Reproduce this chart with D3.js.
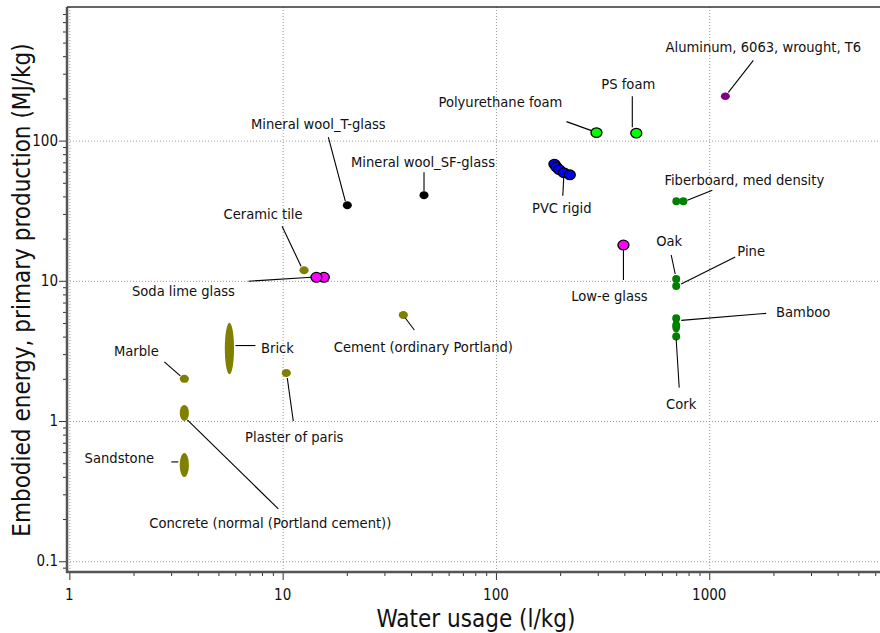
<!DOCTYPE html>
<html>
<head>
<meta charset="utf-8">
<script src="https://cdn.jsdelivr.net/npm/d3@7"></script>
<style>
  html, body { margin: 0; padding: 0; background: #fff; }
  svg { display: block; font-family: "Liberation Sans Narrow", "DejaVu Sans Condensed", "Liberation Sans", sans-serif; }
  .grid line { stroke: #9a9a9a; stroke-width: 1; stroke-dasharray: 1 2; }
  .leader { stroke: #000; stroke-width: 1.1; }
  .label { font-size: 14.6px; fill: #111; }
  .tick-label { font-size: 15px; fill: #111; }
  .axis-title { font-size: 24px; fill: #111; }
</style>
</head>
<body>
<svg id="chart" width="880" height="633"></svg>
<script>
// Materials (one label each) and their colour group
const materialNames = [
  "Aluminum, 6063, wrought, T6", "PS foam", "Polyurethane foam", "PVC rigid",
  "Mineral wool_T-glass", "Mineral wool_SF-glass", "Fiberboard, med density",
  "Ceramic tile", "Soda lime glass", "Low-e glass", "Oak", "Pine", "Bamboo", "Cork",
  "Cement (ordinary Portland)", "Brick", "Plaster of paris", "Marble",
  "Concrete (normal (Portland cement))", "Sandstone"
];
const materialGroup = [
  "metal", "foam", "foam", "plastic",
  "mineral", "mineral", "wood",
  "ceramic", "glass", "glass", "wood", "wood", "wood", "wood",
  "ceramic", "ceramic", "ceramic", "ceramic",
  "ceramic", "ceramic"
];

// Data points (water l/kg, embodied energy MJ/kg low..high)
const pointMaterial = [
  "Aluminum, 6063, wrought, T6", "PS foam", "Polyurethane foam",
  "PVC rigid", "PVC rigid", "PVC rigid", "PVC rigid", "PVC rigid",
  "Mineral wool_T-glass", "Mineral wool_SF-glass",
  "Fiberboard, med density", "Fiberboard, med density",
  "Ceramic tile", "Soda lime glass", "Soda lime glass", "Low-e glass",
  "Oak", "Pine", "Bamboo", "Bamboo", "Cork",
  "Cement (ordinary Portland)", "Brick", "Plaster of paris", "Marble",
  "Concrete (normal (Portland cement))", "Sandstone"
];
const pointWater = [
  1190, 455, 296,
  188, 192, 198, 208, 222,
  20.1, 46,
  701, 756,
  12.6, 15.6, 14.4, 396,
  700, 700, 700, 700, 700,
  36.8, 5.63, 10.4, 3.46,
  3.46, 3.46
];
const pointEnergyLo = [
  207, 113, 114,
  68, 65, 62, 59, 57,
  34.6, 40.8,
  37, 37,
  11.9, 10.6, 10.6, 18,
  10.3, 9.2, 5.4, 4.55, 4.0,
  5.7, 2.3, 2.2, 2.0,
  1.07, 0.426
];
const pointEnergyHi = [
  207, 113, 114,
  68, 65, 62, 59, 57,
  34.6, 40.8,
  37, 37,
  11.9, 10.6, 10.6, 18,
  10.3, 9.2, 5.4, 4.95, 4.0,
  5.7, 4.7, 2.2, 2.0,
  1.22, 0.555
];

const xTickValues = [1, 10, 100, 1000];
const yTickValues = [0.1, 1, 10, 100];
const xTitle = "Water usage (l/kg)";
const yTitle = "Embodied energy, primary production (MJ/kg)";

// Styles per group
const groupStyle = {
  metal:   { fill: "#800080", stroke: "none", rx: 4.5, ry: 3.8 },
  foam:    { fill: "#00ff00", stroke: "#000", rx: 5.5, ry: 4.8 },
  plastic: { fill: "#0000ff", stroke: "#000", rx: 5.5, ry: 4.8 },
  mineral: { fill: "#000000", stroke: "none", rx: 4.5, ry: 4 },
  wood:    { fill: "#008000", stroke: "none", rx: 4, ry: 4 },
  ceramic: { fill: "#808000", stroke: "none", rx: 4.6, ry: 4 },
  glass:   { fill: "#ff00ff", stroke: "#000", rx: 5.5, ry: 4.8 }
};

// Label layout: which point of the material it points at, text offset, leader offsets (px)
const labelLayout = {
  "Aluminum, 6063, wrought, T6":        { pt: 0, dx: 38, dy: -49, l: [28, -36, 3, -4] },
  "PS foam":                            { pt: 0, dx: -8, dy: -49, l: [-4, -37, -4, -6] },
  "Polyurethane foam":                  { pt: 0, dx: -96, dy: -31, l: [-30, -11, -5, -2] },
  "PVC rigid":                          { pt: 3, dx: -2, dy: 35, l: [-1, 23, 0, 4] },
  "Mineral wool_T-glass":               { pt: 0, dx: -29, dy: -81, l: [-19, -68, -2, -4] },
  "Mineral wool_SF-glass":              { pt: 0, dx: -1, dy: -33, l: [0, -23, 0, -4] },
  "Fiberboard, med density":            { pt: 1, dx: 61, dy: -21, l: [29, -11, 4, -1] },
  "Ceramic tile":                       { pt: 0, dx: -41, dy: -56, l: [-22, -44, -3, -4] },
  "Soda lime glass":                    { pt: 1, dx: -133, dy: 14, l: [-68, 4, -5, 0] },
  "Low-e glass":                        { pt: 0, dx: -14, dy: 51, l: [0, 35, 0, 5] },
  "Oak":                                { pt: 0, dx: -7, dy: -38, l: [-5, -24, -1, -5] },
  "Pine":                               { pt: 0, dx: 75, dy: -35, l: [59, -29, 5, -2] },
  "Bamboo":                             { pt: 0, dx: 127, dy: -6, l: [90, -5, 5, 2] },
  "Cork":                               { pt: 0, dx: 5, dy: 67, l: [3, 51, 0, 3] },
  "Cement (ordinary Portland)":         { pt: 0, dx: 20, dy: 32, l: [11, 15, 2, 3] },
  "Brick":                              { pt: 0, dx: 48, dy: -1, l: [26, -3, 6, -3] },
  "Plaster of paris":                   { pt: 0, dx: 8, dy: 64, l: [7, 48, 1, 5] },
  "Marble":                             { pt: 0, dx: -48, dy: -28, l: [-20, -17, -4, -3] },
  "Concrete (normal (Portland cement))":{ pt: 0, dx: 86, dy: 110, l: [94, 96, 3, 7] },
  "Sandstone":                          { pt: 0, dx: -65, dy: -7, l: [-13, -3, -6, -3] }
};

const plot = { left: 67, right: 879, top: 7, bottom: 572 };

const svg = d3.select("#chart");

const x = d3.scaleLog().domain([0.975, 6250]).range([plot.left, plot.right]);
const y = d3.scaleLog().domain([0.0838, 897]).range([plot.bottom, plot.top]);

// Minor tick values (2..9 of each decade) inside domain
function minorTicks(scale) {
  const [d0, d1] = scale.domain();
  const out = [];
  for (let e = Math.floor(Math.log10(d0)); e <= Math.ceil(Math.log10(d1)); e++) {
    for (let m = 1; m <= 9; m++) {
      const v = m * Math.pow(10, e);
      if (v >= d0 && v <= d1) out.push(v);
    }
  }
  return out;
}

// Grid
const grid = svg.append("g").attr("class", "grid");
grid.selectAll("line.gx").data(xTickValues).join("line")
  .attr("class", "gx")
  .attr("x1", d => x(d) + 0.5).attr("x2", d => x(d) + 0.5)
  .attr("y1", plot.top).attr("y2", plot.bottom);
grid.selectAll("line.gy").data(yTickValues).join("line")
  .attr("class", "gy")
  .attr("x1", plot.left).attr("x2", plot.right)
  .attr("y1", d => y(d) + 0.5).attr("y2", d => y(d) + 0.5);

// Axes
const xAxis = d3.axisBottom(x)
  .tickValues(minorTicks(x))
  .tickSize(4)
  .tickFormat("");
const yAxis = d3.axisLeft(y)
  .tickValues(minorTicks(y))
  .tickSize(4)
  .tickFormat("");

const gx = svg.append("g").attr("transform", `translate(0,${plot.bottom})`).call(xAxis);
const gy = svg.append("g").attr("transform", `translate(${plot.left},0)`).call(yAxis);

[gx, gy].forEach(g => {
  g.select(".domain").remove();
  g.selectAll(".tick line").attr("stroke", "#333").attr("stroke-width", 1);
  g.selectAll(".tick line").filter(d => xTickValues.concat(yTickValues).includes(d))
    .attr(g === gx ? "y2" : "x2", g === gx ? 8 : -8);
});

// Major tick labels
svg.append("g").selectAll("text").data(xTickValues).join("text")
  .attr("class", "tick-label")
  .attr("x", d => x(d))
  .attr("y", plot.bottom + 23)
  .attr("dy", "0.35em")
  .attr("text-anchor", "middle")
  .text(d => d);
svg.append("g").selectAll("text").data(yTickValues).join("text")
  .attr("class", "tick-label")
  .attr("x", plot.left - 9)
  .attr("y", d => y(d))
  .attr("dy", "0.35em")
  .attr("text-anchor", "end")
  .text(d => d);

// Frame: left and bottom axis lines, top border
svg.append("line").attr("x1", plot.left).attr("x2", plot.left)
  .attr("y1", plot.top).attr("y2", plot.bottom + 1)
  .attr("stroke", "#555").attr("stroke-width", 2.5);
svg.append("line").attr("x1", plot.left - 1).attr("x2", plot.right + 1)
  .attr("y1", plot.bottom).attr("y2", plot.bottom)
  .attr("stroke", "#555").attr("stroke-width", 2.5);
svg.append("line").attr("x1", plot.left).attr("x2", plot.right + 1)
  .attr("y1", plot.top).attr("y2", plot.top)
  .attr("stroke", "#333").attr("stroke-width", 1.5);

// Titles
svg.append("text").attr("class", "axis-title")
  .attr("x", 476).attr("y", 627)
  .attr("text-anchor", "middle")
  .text(xTitle);
svg.append("text").attr("class", "axis-title")
  .attr("transform", "translate(30,290) rotate(-90)")
  .attr("text-anchor", "middle")
  .text(yTitle);

// Points
const points = pointMaterial.map((m, i) => ({
  material: m,
  group: materialGroup[materialNames.indexOf(m)],
  water: pointWater[i],
  lo: pointEnergyLo[i],
  hi: pointEnergyHi[i]
}));

const gPts = svg.append("g");
gPts.selectAll("ellipse").data(points).join("ellipse")
  .attr("cx", d => x(d.water))
  .attr("cy", d => (y(d.lo) + y(d.hi)) / 2)
  .attr("rx", d => groupStyle[d.group].rx)
  .attr("ry", d => groupStyle[d.group].ry + (y(d.lo) - y(d.hi)) / 2)
  .attr("fill", d => groupStyle[d.group].fill)
  .attr("stroke", d => groupStyle[d.group].stroke)
  .attr("stroke-width", 1.3);

// Labels + leader lines
const gLab = svg.append("g");
materialNames.forEach(name => {
  const lay = labelLayout[name];
  const pts = points.filter(p => p.material === name);
  const p = pts[lay.pt];
  const px = x(p.water);
  const py = (y(p.lo) + y(p.hi)) / 2;
  gLab.append("line").attr("class", "leader")
    .attr("x1", px + lay.l[0]).attr("y1", py + lay.l[1])
    .attr("x2", px + lay.l[2]).attr("y2", py + lay.l[3]);
  gLab.append("text").attr("class", "label")
    .attr("x", px + lay.dx).attr("y", py + lay.dy)
    .attr("dy", "0.35em")
    .attr("text-anchor", "middle")
    .text(name);
});
</script>
</body>
</html>
